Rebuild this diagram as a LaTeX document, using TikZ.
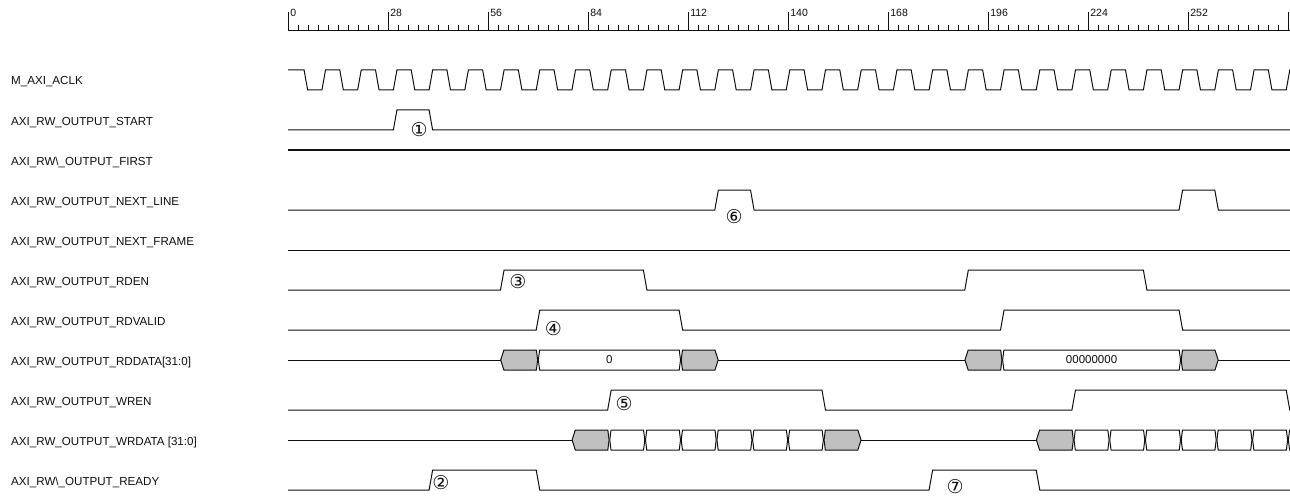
\documentclass[tikz,border=0pt]{standalone}
\usepackage{fontspec}
\setmainfont{Liberation Sans}
\newfontfamily\circfont{DejaVu Sans}
\definecolor{busgray}{HTML}{C0C0C0}
\definecolor{wave}{HTML}{101010}
\tikzset{
  lbl/.style={anchor=base west,inner sep=0pt,font=\fontsize{11.6}{13}\selectfont,text=wave},
  rlbl/.style={anchor=base west,inner sep=0pt,font=\fontsize{10.5}{12}\selectfont,text=wave},
  circ/.style={inner sep=0pt,font=\circfont\fontsize{19}{20}\selectfont,text=wave},
  dtxt/.style={inner sep=0pt,font=\fontsize{11.5}{13}\selectfont,text=wave},
  wv/.style={draw=wave,line width=1pt,line join=miter},
  cellstyle/.style={draw=wave,line width=1pt}
}
\def\tend{280.8}
% #1 low y, #2 high y, #3 list of rise/fall pairs
\newcommand\pulses[3]{%
  \draw[wv] (0,#1) foreach \r/\f in {#3} { -- (\r-0.5,#1) -- (\r+0.5,#2) -- (\f-0.5,#2) -- (\f+0.5,#1) } -- (\tend,#1);}
% #1 y centre, #2 a, #3 b, #4 left point offset, #5 right point offset, #6 fill
\newcommand\bcell[6]{%
  \filldraw[cellstyle,fill=#6] (#2-#4,#1) -- (#2+0.45,#1-10) -- (#3-0.45,#1-10) -- (#3+#5,#1) -- (#3-0.45,#1+10) -- (#2+0.45,#1+10) -- cycle;}
\begin{document}
\begin{tikzpicture}[x=1pt,y=-1pt]
\useasboundingbox (0,0) rectangle (1290,500);
\fill[white] (0,0) rectangle (1290,500);
\clip (0,0) rectangle (1290,500);
% signal names
\node[lbl] (l1)  at (11,85)  {M\_AXI\_ACLK};
\node[lbl] (l2)  at (11,125) {AXI\_RW\_OUTPUT\_START};
\node[lbl] (l3)  at (11,165) {AXI\_RW\textbackslash\_OUTPUT\_FIRST};
\node[lbl] (l4)  at (11,205) {AXI\_RW\_OUTPUT\_NEXT\_LINE};
\node[lbl] (l5)  at (11,245) {AXI\_RW\_OUTPUT\_NEXT\_FRAME};
\node[lbl] (l6)  at (11,285) {AXI\_RW\_OUTPUT\_RDEN};
\node[lbl] (l7)  at (11,325) {AXI\_RW\_OUTPUT\_RDVALID};
\node[lbl] (l8)  at (11,365) {AXI\_RW\_OUTPUT\_RDDATA[31:0]};
\node[lbl] (l9)  at (11,405) {AXI\_RW\_OUTPUT\_WREN};
\node[lbl] (l10) at (11,445) {AXI\_RW\_OUTPUT\_WRDATA [31:0]};
\node[lbl] (l11) at (11,485) {AXI\_RW\textbackslash\_OUTPUT\_READY};
\begin{scope}[xshift=288pt,x=3.5714pt]
  % ruler
  \draw[wv] (0,30.5) -- (\tend,30.5);
  \foreach \k in {1,...,99} {
    \pgfmathtruncatemacro\m{mod(\k,10)}
    \ifnum\m>0 \draw[wv] (\k*2.8,25.5) -- (\k*2.8,30.5); \fi
  }
  \foreach \t in {0,28,...,280} { \draw[wv] (\t,12) -- (\t,30.5); }
  \foreach \t in {0,28,...,252} { \node[rlbl] (r\t) at (\t+0.6,16.5) {\t}; }
  % clock
  \draw[wv] (0,70) foreach \k in {0,...,27} { -- (\k*10+4.5,70) -- (\k*10+5.5,90) -- (\k*10+9.5,90) -- (\k*10+10.5,70) } -- (\tend,70);
  % single-bit signals
  \pulses{130}{110}{30/40}
  \draw[wv] (0,150) -- (\tend,150);
  \pulses{210}{190}{120/130,250/260}
  \draw[wv] (0,250) -- (\tend,250);
  \pulses{290}{270}{60/100,190/240}
  \pulses{330}{310}{70/110,200/250}
  \pulses{410}{390}{90/150,220/280}
  \pulses{490}{470}{40/70,180/210}
  % RDDATA bus
  \draw[wv] (0,360) -- (59.55,360);
  \draw[wv] (120.45,360) -- (189.55,360);
  \draw[wv] (260.45,360) -- (\tend,360);
  \bcell{360}{60}{70}{0.45}{-0.1}{busgray}
  \bcell{360}{70}{110}{-0.1}{-0.1}{white}
  \bcell{360}{110}{120}{-0.1}{0.45}{busgray}
  \bcell{360}{190}{200}{0.45}{-0.1}{busgray}
  \bcell{360}{200}{250}{-0.1}{-0.1}{white}
  \bcell{360}{250}{260}{-0.1}{0.45}{busgray}
  \node[dtxt] (d1) at (90,360) {0};
  \node[dtxt] (d2) at (225,360) {00000000};
  % WRDATA bus
  \draw[wv] (0,440) -- (79.55,440);
  \draw[wv] (160.45,440) -- (209.55,440);
  \bcell{440}{80}{90}{0.45}{-0.1}{busgray}
  \foreach \a in {90,100,...,140} { \bcell{440}{\a}{\a+10}{-0.1}{-0.1}{white} }
  \bcell{440}{150}{160}{-0.1}{0.45}{busgray}
  \bcell{440}{210}{220}{0.45}{-0.1}{busgray}
  \foreach \a in {220,230,...,280} { \bcell{440}{\a}{\a+10}{-0.1}{-0.1}{white} }
  % annotations
  \node[circ] (c1) at (36.7,130) {①};
  \node[circ] (c2) at (42.8,483) {②};
  \node[circ] (c3) at (64.4,282) {③};
  \node[circ] (c4) at (74.3,329) {④};
  \node[circ] (c5) at (94.1,404) {⑤};
  \node[circ] (c6) at (124.9,217) {⑥};
  \node[circ] (c7) at (186.8,487) {⑦};
\end{scope}
\end{tikzpicture}
\end{document}
